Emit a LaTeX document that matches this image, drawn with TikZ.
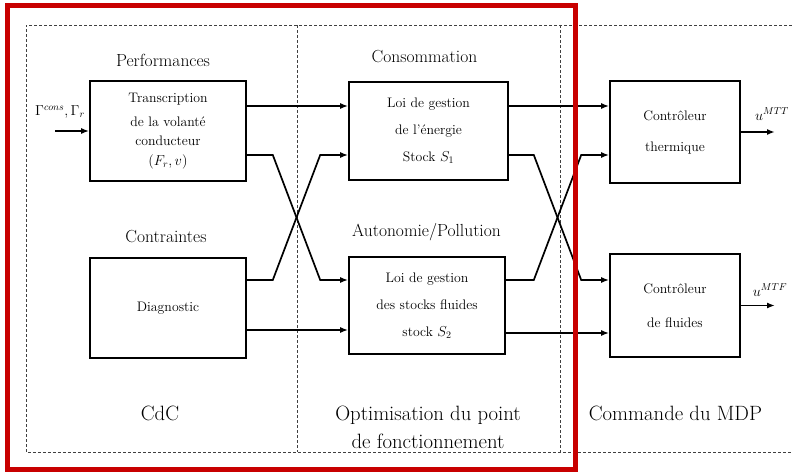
\documentclass[tikz,border=0pt]{standalone}
\usepackage{amsmath}
\usetikzlibrary{arrows.meta}
\definecolor{cadre}{RGB}{200,0,0}
\begin{document}
\begin{tikzpicture}[x=1pt,y=-1pt,
  bloc/.style={draw,line width=1.6pt,minimum width=156pt,minimum height=100pt,inner sep=0pt,align=center,font=\fontsize{13.8}{16}\selectfont},
  titre/.style={font=\fontsize{17.5}{20}\selectfont},
  zone/.style={font=\fontsize{20.7}{28}\selectfont,align=center},
  fil/.style={line width=1.7pt,-{Latex[length=8pt,width=6pt]}},
  limite/.style={line width=0.9pt,black!75,dash pattern=on 3pt off 2pt}]
\useasboundingbox (0,0) rectangle (792,473);
\draw[limite] (792,25) -- (26,25) -- (26,452) -- (792,452);
\draw[limite] (297,25) -- (297,452);
\draw[limite] (560,25) -- (560,452);
\node[bloc] (transcription) at (168,131) {Transcription\\[8pt]de la volanté\\[3pt]conducteur\\[4pt]$(F_r,v)$};
\node[bloc] (diagnostic) at (168,308) {Diagnostic};
\node[bloc,minimum width=159pt,minimum height=98pt] (energie) at (428.5,131) {Loi de gestion\\[11pt]de l'énergie\\[11pt]Stock $S_1$};
\node[bloc,minimum height=97pt] (stocks) at (427,305.5) {Loi de gestion\\[11pt]des stocks fluides\\[11pt]stock $S_2$};
\node[bloc,minimum width=130pt,minimum height=102pt] (thermique) at (675,132) {Contrôleur\\[15pt]thermique};
\node[bloc,minimum width=130pt,minimum height=103pt] (fluides) at (675,305.5) {Contrôleur\\[18pt]de fluides};
\node[titre] (performances) at (163,60) {Performances};
\node[titre] (contraintes) at (166,237) {Contraintes};
\node[titre] (consommation) at (424.5,57) {Consommation};
\node[titre] (autonomie) at (426.5,232) {Autonomie/Pollution};
\node[zone] (cdc) at (160,413) {CdC};
\node[zone] (optimisation) at (428,427) {Optimisation du point\\de fonctionnement};
\node[zone] (commande) at (675.5,413) {Commande du MDP};
\coordinate (entree) at (55,131);
\node[font=\fontsize{13.8}{16}\selectfont] (gamma) at (60,112) {$\Gamma^{cons},\Gamma_r$};
\draw[fil] (entree) -- (transcription.west);
\draw[fil] ([yshift=25pt]transcription.east) -- ([yshift=25pt]energie.west);
\draw[fil] ([yshift=-24pt]transcription.east) -- ++(26,0) -- ([xshift=-28pt,yshift=25.5pt]stocks.west) -- ([yshift=25.5pt]stocks.west);
\draw[fil] ([yshift=28pt]diagnostic.east) -- ++(26,0) -- ([xshift=-28pt,yshift=-24pt]energie.west) -- ([yshift=-24pt]energie.west);
\draw[fil] ([yshift=-22pt]diagnostic.east) -- ([yshift=-24.5pt]stocks.west);
\draw[fil] ([yshift=25pt]energie.east) -- ([yshift=26pt]thermique.west);
\draw[fil] ([yshift=-24pt]energie.east) -- ++(25,0) -- ([xshift=-28pt,yshift=25.5pt]fluides.west) -- ([yshift=25.5pt]fluides.west);
\draw[fil] ([yshift=25.5pt]stocks.east) -- ++(28,0) -- ([xshift=-28pt,yshift=-23pt]thermique.west) -- ([yshift=-23pt]thermique.west);
\draw[fil] ([yshift=-27.5pt]stocks.east) -- ([yshift=-27.5pt]fluides.west);
\coordinate (sortieT) at (775,132);
\coordinate (sortieF) at (775,305.5);
\draw[fil] (thermique.east) -- (sortieT);
\draw[fil] (fluides.east) -- (sortieF);
\node[font=\fontsize{14}{16}\selectfont] (uT) at (772,114) {$u^{MTT}$};
\node[font=\fontsize{14}{16}\selectfont] (uF) at (770,290) {$u^{MTF}$};
\draw[cadre,line width=5pt] (7,5.5) rectangle (575.5,469.5);
\end{tikzpicture}
\end{document}
